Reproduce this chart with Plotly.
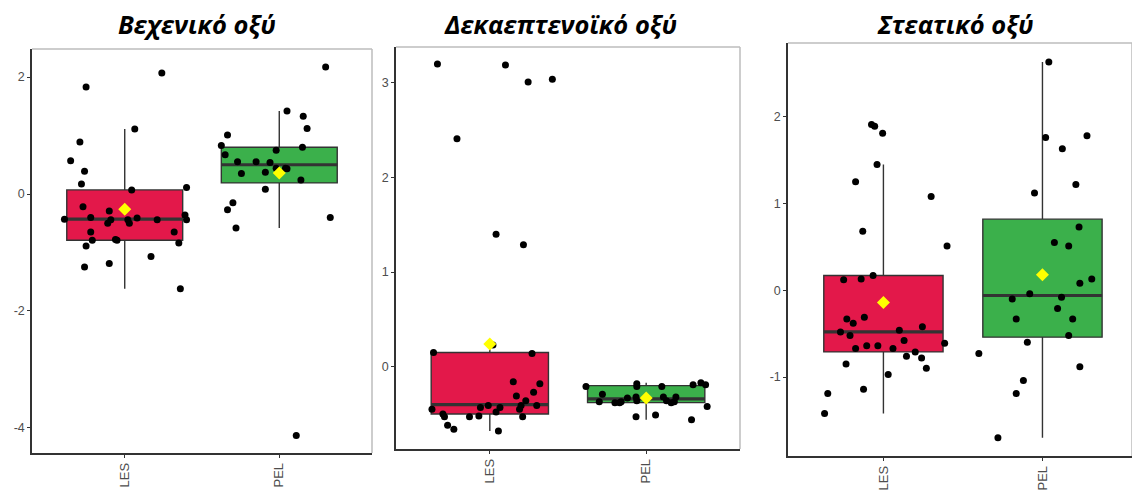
import plotly.graph_objects as go

groups = ["LES", "PEL"]
titles = ["Βεχενικό οξύ", "Δεκαεπτενοϊκό οξύ", "Στεατικό οξύ"]

# --- Behenic acid ---
beh_les_y = [1.83, 2.07, 1.11, 0.89, 0.57, 0.39, 0.17, 0.07, 0.11, -0.22, -0.29, -0.43, -0.40, -0.44,
             -0.50, -0.44, -0.50, -0.41, -0.44, -0.36, -0.44, -0.65, -0.65, -0.79, -0.78, -0.79, -0.89,
             -0.84, -1.25, -1.19, -1.07, -1.62]
beh_les_jit = [-0.25, 0.24, 0.065, -0.29, -0.35, -0.26, -0.28, 0.045, 0.40, -0.27, -0.10, -0.39, -0.22,
               -0.09, -0.11, 0.02, 0.03, 0.08, 0.21, 0.39, 0.40, -0.22, 0.32, -0.21, -0.06, -0.05, -0.25,
               0.35, -0.26, -0.10, 0.17, 0.36]
beh_pel_y = [2.17, 1.42, 1.33, 1.12, 1.01, 0.83, 0.80, 0.75, 0.67, 0.55, 0.55, 0.54, 0.35, 0.37, 0.44,
             0.44, 0.43, 0.24, 0.08, -0.15, -0.27, -0.58, -0.40, -4.13]
beh_pel_jit = [0.30, 0.05, 0.155, 0.18, -0.335, -0.375, 0.15, -0.02, -0.35, -0.27, -0.15, -0.06, -0.245,
               -0.09, -0.02, 0.04, 0.05, 0.14, -0.09, -0.30, -0.335, -0.28, 0.33, 0.11]
beh_q1 = [-0.79, 0.19]
beh_med = [-0.43, 0.50]
beh_q3 = [0.07, 0.80]
beh_lo = [-1.62, -0.58]
beh_hi = [1.11, 1.42]
beh_mean = [-0.26, 0.36]
beh_ticks = [-4, -2, 0, 2]

# --- Heptadecenoic acid ---
hep_les_y = [3.20, 3.19, 3.01, 3.04, 2.41, 1.40, 1.29, 0.15, 0.14, 0.23, -0.16, -0.18, -0.31, -0.27,
             -0.36, -0.41, -0.41, -0.45, -0.53, -0.45, -0.50, -0.53, -0.62, -0.66, -0.53, -0.52, -0.43,
             -0.41, -0.48, -0.43, -0.68]
hep_les_jit = [-0.335, 0.10, 0.245, 0.40, -0.21, 0.04, 0.215, -0.36, 0.27, 0.02, 0.15, 0.32, 0.17, 0.28,
               0.23, 0.20, 0.30, 0.19, 0.21, -0.37, -0.30, -0.29, -0.27, -0.23, -0.13, -0.07, -0.06,
               -0.01, 0.04, 0.065, 0.055]
hep_pel_y = [-0.21, -0.29, -0.37, -0.38, -0.38, -0.37, -0.33, -0.18, -0.21, -0.32, -0.36, -0.21, -0.32,
             -0.36, -0.38, -0.37, -0.32, -0.19, -0.17, -0.19, -0.42, -0.53, -0.51, -0.56]
hep_pel_jit = [-0.385, -0.28, -0.30, -0.20, -0.17, -0.16, -0.12, -0.06, -0.06, -0.065, -0.06, 0.10, 0.11,
               0.13, 0.16, 0.18, 0.19, 0.30, 0.35, 0.38, 0.39, -0.065, 0.06, 0.29]
hep_q1 = [-0.50, -0.38]
hep_med = [-0.40, -0.34]
hep_q3 = [0.15, -0.20]
hep_lo = [-0.68, -0.56]
hep_hi = [0.23, -0.17]
hep_mean = [0.24, -0.33]
hep_ticks = [0, 1, 2, 3]

# --- Stearic acid ---
ste_les_y = [1.91, 1.89, 1.81, 1.45, 1.25, 1.08, 0.68, 0.51, 0.12, 0.13, 0.17, -0.33, -0.38, -0.31,
             -0.48, -0.52, -0.46, -0.42, -0.58, -0.67, -0.64, -0.64, -0.67, -0.76, -0.71, -0.78, -0.90,
             -0.61, -0.85, -0.97, -1.19, -1.14, -1.42]
ste_les_jit = [-0.075, -0.055, -0.005, -0.04, -0.175, 0.30, -0.13, 0.40, -0.25, -0.14, -0.065, -0.23,
               -0.19, -0.12, -0.27, -0.21, 0.10, 0.245, 0.13, -0.175, -0.105, -0.035, 0.06, 0.145, 0.20,
               0.24, 0.27, 0.385, -0.235, 0.03, -0.35, -0.125, -0.37]
ste_pel_y = [2.63, 1.76, 1.78, 1.63, 1.22, 1.12, 0.73, 0.55, 0.51, 0.13, 0.08, -0.04, -0.10, -0.08,
             -0.21, -0.33, -0.33, -0.52, -0.60, -0.73, -0.88, -1.04, -1.19, -1.70]
ste_pel_jit = [0.04, 0.02, 0.28, 0.125, 0.21, -0.05, 0.23, 0.075, 0.165, 0.31, 0.235, -0.08, -0.19, 0.12,
               0.095, -0.165, 0.19, 0.165, -0.095, -0.40, 0.235, -0.12, -0.165, -0.28]
ste_q1 = [-0.71, -0.54]
ste_med = [-0.48, -0.06]
ste_q3 = [0.17, 0.82]
ste_lo = [-1.42, -1.70]
ste_hi = [1.45, 2.63]
ste_mean = [-0.14, 0.18]
ste_ticks = [-1, 0, 1, 2]

panels = [
    dict(les_y=beh_les_y, les_jit=beh_les_jit, pel_y=beh_pel_y, pel_jit=beh_pel_jit,
         q1=beh_q1, med=beh_med, q3=beh_q3, lo=beh_lo, hi=beh_hi, mean=beh_mean, ticks=beh_ticks),
    dict(les_y=hep_les_y, les_jit=hep_les_jit, pel_y=hep_pel_y, pel_jit=hep_pel_jit,
         q1=hep_q1, med=hep_med, q3=hep_q3, lo=hep_lo, hi=hep_hi, mean=hep_mean, ticks=hep_ticks),
    dict(les_y=ste_les_y, les_jit=ste_les_jit, pel_y=ste_pel_y, pel_jit=ste_pel_jit,
         q1=ste_q1, med=ste_med, q3=ste_q3, lo=ste_lo, hi=ste_hi, mean=ste_mean, ticks=ste_ticks),
]

W, H = 1132, 492
FILLS = ["#E3184A", "#3BB04B"]
EDGE = "#333333"
BOX_W = 0.75

# panel frames in pixels: (left, right, top, bottom)
frames = [(32, 372, 49, 453), (396, 740, 47, 449), (788, 1132, 43, 456)]
y_ranges = [[-4.43, 2.48], [-0.87, 3.38], [-1.91, 2.85]]
x_ranges = [[-0.6, 1.6], [-0.6, 1.6], [-0.6, 1.563]]
title_x = [197, 560, 955]

fig = go.Figure()
layout = dict(width=W, height=H, autosize=False, margin=dict(l=0, r=0, t=0, b=0),
              paper_bgcolor="white", plot_bgcolor="white", showlegend=False,
              font=dict(family="Liberation Sans, Arial, sans-serif", color="#4D4D4D", size=12))
shapes, annotations = [], []

for i, p in enumerate(panels):
    sfx = "" if i == 0 else str(i + 1)
    xa, ya = "x" + sfx, "y" + sfx
    pos = list(range(len(groups)))
    for g in pos:
        fig.add_trace(go.Box(
            x=[g], q1=[p["q1"][g]], median=[p["med"][g]], q3=[p["q3"][g]],
            lowerfence=[p["lo"][g]], upperfence=[p["hi"][g]],
            fillcolor=FILLS[g], line=dict(color=EDGE, width=1.4), whiskerwidth=0,
            width=BOX_W, boxpoints=False, xaxis=xa, yaxis=ya, hoverinfo="skip"))
        # thick median bar
        fig.add_trace(go.Scatter(
            x=[g - BOX_W / 2, g + BOX_W / 2], y=[p["med"][g]] * 2, mode="lines",
            line=dict(color=EDGE, width=3.2), xaxis=xa, yaxis=ya, hoverinfo="skip"))
    for g, key in enumerate(["les", "pel"]):
        fig.add_trace(go.Scatter(
            x=[g + j for j in p[key + "_jit"]], y=p[key + "_y"], mode="markers",
            marker=dict(color="black", size=7, line=dict(width=0)),
            xaxis=xa, yaxis=ya, hoverinfo="skip"))
    fig.add_trace(go.Scatter(
        x=pos, y=p["mean"], mode="markers",
        marker=dict(symbol="diamond", color="#FFFF00", size=10, line=dict(width=0)),
        xaxis=xa, yaxis=ya, hoverinfo="skip"))

    l, r, t, b = frames[i]
    layout["xaxis" + sfx] = dict(
        domain=[l / W, r / W], range=x_ranges[i], anchor=ya,
        tickmode="array", tickvals=pos, ticktext=groups, tickangle=-90,
        showline=True, linecolor=EDGE, linewidth=1.5, mirror=False,
        ticks="outside", ticklen=3, tickwidth=1, tickcolor=EDGE,
        showgrid=False, zeroline=False, tickfont=dict(size=13, color="#4D4D4D"))
    layout["yaxis" + sfx] = dict(
        domain=[(H - b) / H, (H - t) / H], range=y_ranges[i], anchor=xa,
        tickmode="array", tickvals=p["ticks"], ticktext=[str(v) for v in p["ticks"]],
        showline=True, linecolor=EDGE, linewidth=1.5, mirror=False,
        ticks="outside", ticklen=3, tickwidth=1, tickcolor=EDGE,
        showgrid=False, zeroline=False, tickfont=dict(size=12.5, color="#4D4D4D"))
    # light frame on top and right sides
    shapes.append(dict(type="line", xref=xa + " domain", yref=ya + " domain",
                       x0=0, x1=1, y0=1, y1=1, line=dict(color="#BDBDBD", width=1.5)))
    shapes.append(dict(type="line", xref=xa + " domain", yref=ya + " domain",
                       x0=1, x1=1, y0=0, y1=1, line=dict(color="#BDBDBD", width=1.5)))
    annotations.append(dict(
        text=titles[i], xref="paper", yref="paper", x=title_x[i] / W, y=(H - 24) / H,
        xanchor="center", yanchor="middle", showarrow=False,
        font=dict(family="Open Sans, Noto Sans, sans-serif", size=25.5, color="black",
                  weight="bold", style="italic")))

layout["shapes"] = shapes
layout["annotations"] = annotations
fig.update_layout(**layout)
fig.write_html("out.html")
